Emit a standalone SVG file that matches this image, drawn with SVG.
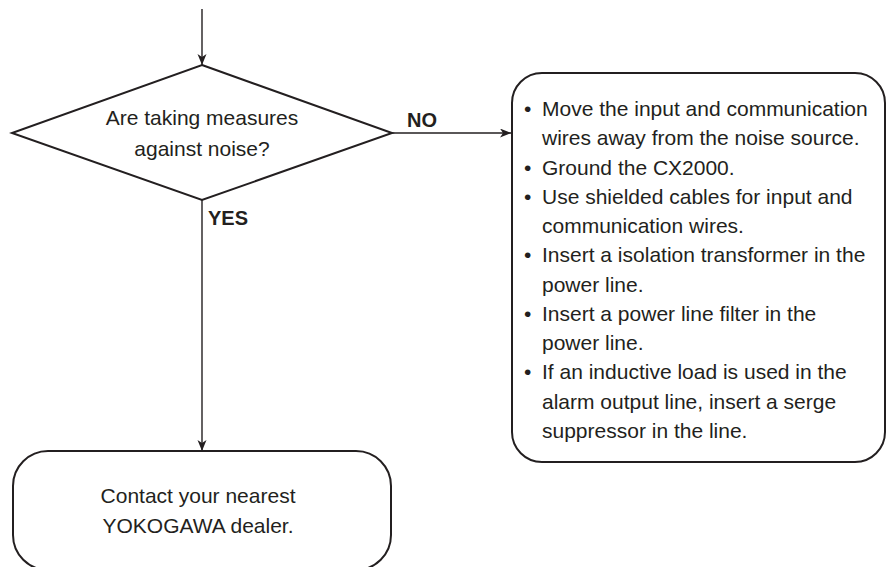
<svg xmlns="http://www.w3.org/2000/svg" width="886" height="567" viewBox="0 0 886 567">
<style>
  .shape { fill: #ffffff; stroke: #231f20; stroke-width: 2; }
  .conn { fill: none; stroke: #231f20; stroke-width: 1.4; }
  .t { font-family: "Liberation Sans", Arial, sans-serif; font-size: 21px; fill: #231f20; }
  .c { text-anchor: middle; }
  .lbl { font-family: "Liberation Sans", Arial, sans-serif; font-size: 20px; font-weight: bold; fill: #231f20; }
</style>
<defs>
  <marker id="arrow" markerUnits="userSpaceOnUse" markerWidth="12" markerHeight="10" refX="11" refY="4.5" orient="auto">
    <path d="M0,0 L11,4.5 L0,9 L3,4.5 Z" fill="#231f20"/>
  </marker>
</defs>
<rect width="886" height="567" fill="#ffffff"/>

<g id="connectors">
  <line class="conn" x1="202" y1="9" x2="202" y2="65" marker-end="url(#arrow)"/>
  <line class="conn" x1="392" y1="133" x2="511" y2="133" marker-end="url(#arrow)"/>
  <line class="conn" x1="202" y1="200" x2="202" y2="451" marker-end="url(#arrow)"/>
  <text class="lbl" x="407" y="127">NO</text>
  <text class="lbl" x="208" y="225">YES</text>
</g>

<g id="decision">
  <polygon class="shape" points="202,65 392,133 202,200 12,133"/>
  <text class="t c" x="202" y="125">Are taking measures</text>
  <text class="t c" x="202" y="156">against noise?</text>
</g>

<g id="measures">
  <rect class="shape" x="512" y="73" width="373" height="389" rx="30" ry="30"/>
  <text class="t" x="524" y="116">•</text>
  <text class="t" x="542" y="116">Move the input and communication</text>
  <text class="t" x="542" y="145.3">wires away from the noise source.</text>
  <text class="t" x="524" y="174.5">•</text>
  <text class="t" x="542" y="174.5">Ground the CX2000.</text>
  <text class="t" x="524" y="203.8">•</text>
  <text class="t" x="542" y="203.8">Use shielded cables for input and</text>
  <text class="t" x="542" y="233">communication wires.</text>
  <text class="t" x="524" y="262.3">•</text>
  <text class="t" x="542" y="262.3">Insert a isolation transformer in the</text>
  <text class="t" x="542" y="291.5">power line.</text>
  <text class="t" x="524" y="320.8">•</text>
  <text class="t" x="542" y="320.8">Insert a power line filter in the</text>
  <text class="t" x="542" y="350">power line.</text>
  <text class="t" x="524" y="379.3">•</text>
  <text class="t" x="542" y="379.3">If an inductive load is used in the</text>
  <text class="t" x="542" y="408.5">alarm output line, insert a serge</text>
  <text class="t" x="542" y="437.8">suppressor in the line.</text>
</g>

<g id="contact">
  <rect class="shape" x="13" y="451" width="378" height="119" rx="35" ry="35"/>
  <text class="t c" x="198" y="503">Contact your nearest</text>
  <text class="t c" x="198" y="533">YOKOGAWA dealer.</text>
</g>
</svg>
